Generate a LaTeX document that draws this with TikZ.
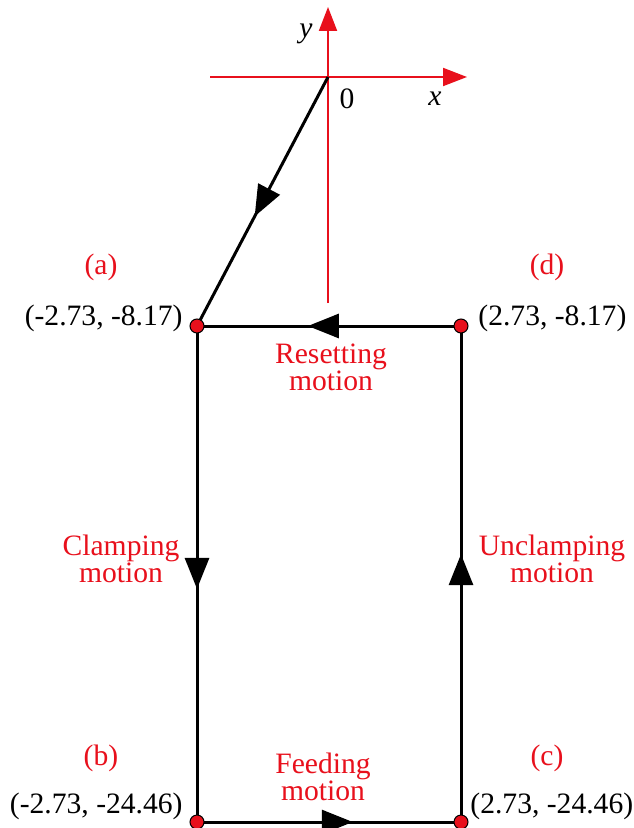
\documentclass[tikz,border=0pt]{standalone}
\usepackage{fontspec}
\setmainfont{Liberation Serif}
\usetikzlibrary{arrows.meta,decorations.markings}
\definecolor{myred}{RGB}{232,16,28}
\tikzset{
  axis/.style={myred,line width=1pt,-{Triangle[length=12pt,width=9pt]}},
  path/.style={black,line width=1.5pt},
  midarrow/.style={postaction={decorate},decoration={markings,
     mark=at position #1 with {\arrow{Triangle[length=15.5pt,width=12pt]}}}},
  dot/.style={circle,fill=myred,draw=black,line width=0.5pt,inner sep=0pt,minimum size=7pt},
  lbl/.style={font=\rmfamily\fontsize{14.8}{13.5}\selectfont,inner sep=0pt},
  rlbl/.style={lbl,text=myred,align=center}
}
\begin{document}
\begin{tikzpicture}[x=0.5pt,y=-0.5pt]
\useasboundingbox (0,0) rectangle (633,828);
% axes
\coordinate (O) at (328,77);
\coordinate (xl) at (210,77);
\coordinate (xr) at (467,77);
\coordinate (yb) at (328,303);
\coordinate (yt) at (328,7);
\draw[axis] (xl) -- (xr);
\draw[axis] (yb) -- (yt);
\node[lbl] (ylab) at (306,34) {\itshape y};
\node[lbl] (zero) at (347,99) {0};
\node[lbl] (xlab) at (435,99) {\itshape x};
% corner points
\coordinate (A) at (197,326);
\coordinate (D) at (461,326);
\coordinate (B) at (197,822);
\coordinate (C) at (461,822);
% paths
\draw[path,midarrow=0.56] (O) -- (A);
\draw[path,midarrow=0.58] (D) -- (A);
\draw[path,midarrow=0.53] (A) -- (B);
\draw[path,midarrow=0.59] (B) -- (C);
\draw[path,midarrow=0.54] (C) -- (D);
\node[dot] (a) at (A) {};
\node[dot] (d) at (D) {};
\node[dot] (b) at (B) {};
\node[dot] (c) at (C) {};
% labels
\node[rlbl] (la) at (101,267) {(a)};
\node[rlbl] (ld) at (547,267) {(d)};
\node[rlbl] (lb) at (101,758) {(b)};
\node[rlbl] (lc) at (547,758) {(c)};
\node[lbl,anchor=east] (ca) at (183,318) {(-2.73, -8.17)};
\node[lbl,anchor=west] (cd) at (478,318) {(2.73, -8.17)};
\node[lbl,anchor=east] (cb) at (183,806) {(-2.73, -24.46)};
\node[lbl,anchor=west] (cc) at (470,806) {(2.73, -24.46)};
\node[rlbl] (reset) at (331,367) {Resetting\\motion};
\node[rlbl] (clamp) at (121,559) {Clamping\\motion};
\node[rlbl] (unclamp) at (552,559) {Unclamping\\motion};
\node[rlbl] (feed) at (323,777) {Feeding\\motion};
\end{tikzpicture}
\end{document}
